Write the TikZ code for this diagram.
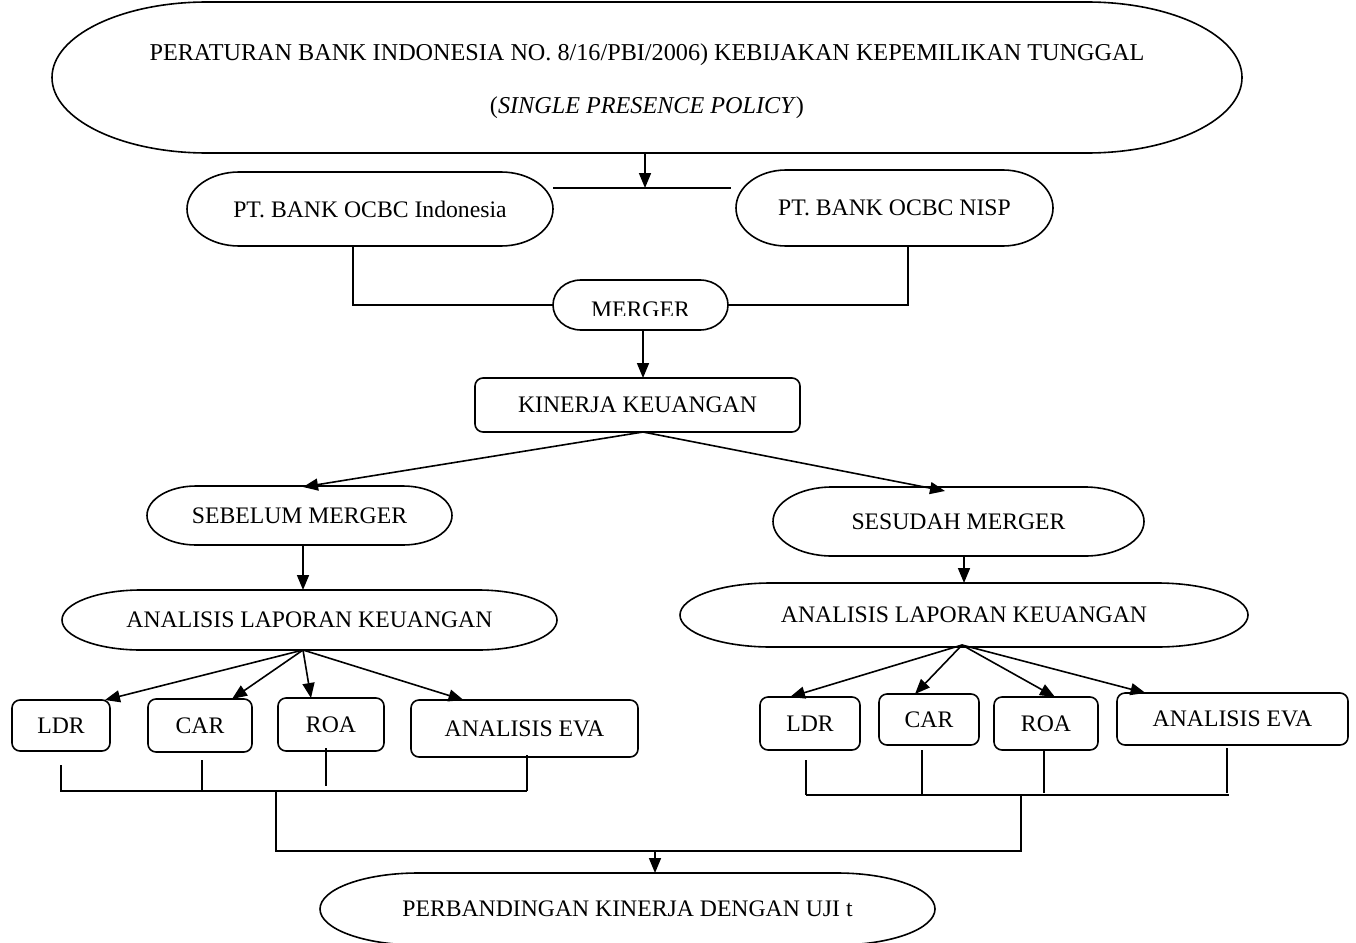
\documentclass[tikz,border=0pt]{standalone}
\usepackage{fontspec}
\setmainfont{Liberation Serif}
\usetikzlibrary{calc,arrows.meta}
\newcommand\termline[3]{\draw[lw] ($(#1.north west)+(#2,0)$) -- ($(#1.north east)+(-#2,0)$) arc[start angle=90,end angle=-90,x radius=#2,y radius=#3] -- ($(#1.south west)+(#2,0)$) arc[start angle=270,end angle=90,x radius=#2,y radius=#3] -- cycle;}
\tikzset{
  lw/.style={line width=1.6pt},
  arr/.style={lw,-{Triangle[length=15pt,width=12pt]}},
  term/.style={inner sep=0pt,outer sep=0pt,font=\fontsize{23.7}{28}\selectfont},
  box/.style={draw,lw,rounded corners=8pt,inner sep=0pt,outer sep=0pt,font=\fontsize{23.7}{28}\selectfont},
}
\begin{document}
\begin{tikzpicture}[x=1pt,y=1pt]
\useasboundingbox[fill=white] (0,0) rectangle (1356,-942);
% top
\node[term,minimum width=1190,minimum height=151] (top) at (647,-77.5) {};
\node[term,font=\fontsize{24.2}{28}\selectfont] (t1) at (top.center |- 0,-55) {PERATURAN BANK INDONESIA NO. 8/16/PBI/2006) KEBIJAKAN KEPEMILIKAN TUNGGAL};
\node[term,font=\fontsize{24.2}{28}\selectfont] (t2) at (top.center |- 0,-108) {(\textit{SINGLE PRESENCE POLICY})};
\termline{top}{155}{75.5}
% banks
\node[term,minimum width=366,minimum height=74] (ptind) at (370,-209) {PT. BANK OCBC Indonesia};
\termline{ptind}{52}{37}
\node[term,minimum width=317,minimum height=76] (nisp) at (894.5,-208) {PT. BANK OCBC NISP};
\termline{nisp}{50}{38}
% merger
\begin{scope}
\clip (540,-270) rectangle (740,-315.5);
\node[term,minimum width=175,minimum height=50] (merger) at (640.5,-310) {MERGER};
\end{scope}
\coordinate (mg) at (640.5,-305);
\path (mg) ++(-87.5,25) coordinate (mgnw) ++(175,-50) coordinate (mgse);
\draw[lw] ($(mgnw)+(28,0)$) -- ($(mgnw -| mgse)+(-28,0)$) arc[start angle=90,end angle=-90,x radius=28,y radius=25] -- ($(mgse -| mgnw)+(28,0)$) arc[start angle=270,end angle=90,x radius=28,y radius=25] -- cycle;
\coordinate (mgW) at (mgnw |- mg);
\coordinate (mgE) at (mgse |- mg);
% kinerja
\node[box,minimum width=325,minimum height=54] (kin) at (637.5,-405) {KINERJA KEUANGAN};
% sebelum / sesudah
\node[term,minimum width=305,minimum height=59] (seb) at (299.5,-515.5) {SEBELUM MERGER};
\termline{seb}{49}{29.5}
\node[term,minimum width=371,minimum height=69] (ses) at (958.5,-521.5) {SESUDAH MERGER};
\termline{ses}{59}{34.5}
% analisis
\node[term,minimum width=495,minimum height=60] (anl) at (309.5,-620) {ANALISIS LAPORAN KEUANGAN};
\termline{anl}{79}{30}
\node[term,minimum width=568,minimum height=64] (anr) at (964,-615) {ANALISIS LAPORAN KEUANGAN};
\termline{anr}{91}{32}
% left boxes
\node[box,minimum width=98,minimum height=51] (ldra) at (61,-725.5) {LDR};
\node[box,minimum width=104,minimum height=53] (cara) at (200,-725.5) {CAR};
\node[box,minimum width=106,minimum height=53] (roaa) at (331,-724.5) {ROA};
\node[box,minimum width=227,minimum height=57] (evaa) at (524.5,-728.5) {ANALISIS EVA};
% right boxes
\node[box,minimum width=100,minimum height=53] (ldrb) at (810,-723.5) {LDR};
\node[box,minimum width=100,minimum height=51] (carb) at (929,-719.5) {CAR};
\node[box,minimum width=104,minimum height=53] (roab) at (1046,-723.5) {ROA};
\node[box,minimum width=231,minimum height=52] (evab) at (1232.5,-719) {ANALISIS EVA};
% bottom
\node[term,minimum width=615,minimum height=72] (bot) at (627.5,-909) {PERBANDINGAN KINERJA DENGAN UJI t};
\termline{bot}{98}{36}
% connectors top
\coordinate (j1) at (645,-188);
\coordinate (jL) at (553,-188);
\coordinate (jR) at (731,-188);
\draw[arr] (top.south -| j1) -- (j1);
\draw[lw] (jL) -- (jR);
\draw[lw] ($(ptind.south)+(-17,0)$) |- (mgW);
\draw[lw] ($(nisp.south)+(13.5,0)$) |- (mgE);
\coordinate (mk) at (643,-330);
\draw[arr] (mk) -- (mk |- kin.north);
\coordinate (ks) at (643,-432);
\draw[arr] (ks) -- ($(seb.north)+(3.5,-1)$);
\draw[arr] (ks) -- ($(ses.north)+(-13.5,-4)$);
\draw[arr] ($(seb.south)+(3.5,0)$) -- ($(anl.north)+(-6.5,0)$);
\draw[arr] (anr.north |- ses.south) -- (anr.north);
% analisis left arrows
\coordinate (al) at (303,-650);
\draw[arr] (al) -- ($(ldra.north)+(44,0)$);
\draw[arr] (al) -- ($(cara.north)+(32,0)$);
\draw[arr] (al) -- ($(roaa.north)+(-20,0)$);
\draw[arr] (al) -- ($(evaa.north)+(-61,0)$);
% analisis right arrows
\coordinate (ar) at (962,-645);
\draw[arr] (ar) -- ($(ldrb.north)+(-20,0)$);
\draw[arr] (ar) -- ($(carb.north)+(-14,0)$);
\draw[arr] (ar) -- ($(roab.north)+(9,0)$);
\draw[arr] (ar) -- ($(evab.north)+(-87,0)$);
% left bus
\coordinate (bl1) at (60,-791);
\coordinate (bl2) at (527,-791);
\draw[lw] (bl1) -- (bl2);
\draw[lw] (61,-765) -- (61,-791);
\draw[lw] (202,-760) -- (202,-791);
\draw[lw] (326,-748) -- (326,-786);
\draw[lw] (527,-755) -- (527,-791);
% right bus
\coordinate (br1) at (806,-795);
\coordinate (br2) at (1229,-795);
\draw[lw] (br1) -- (br2);
\draw[lw] (806,-760) -- (806,-795);
\draw[lw] (922,-750) -- (922,-795);
\draw[lw] (1044,-750) -- (1044,-793);
\draw[lw] (1227,-748) -- (1227,-793);
% bottom bracket
\coordinate (bb1) at (276,-791);
\coordinate (bb2) at (1021,-795);
\draw[lw] (bb1) -- (276,-851) -- (1021,-851) -- (bb2);
\coordinate (bb) at (655,-851);
\draw[arr] (bb) -- (bb |- bot.north);
\end{tikzpicture}
\end{document}
